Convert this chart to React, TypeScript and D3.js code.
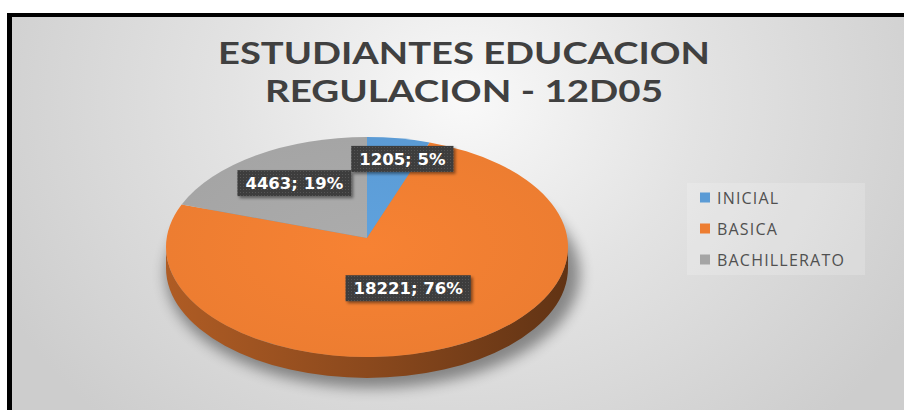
import React, { useMemo } from "react";
import * as d3 from "d3";

const categories = ["INICIAL", "BASICA", "BACHILLERATO"];
const values = [1205, 18221, 4463];
const percents = ["5%", "76%", "19%"];
const colors = ["#5B9BD5", "#ED7D31", "#A5A5A5"];
const titleLines = ["ESTUDIANTES EDUCACION", "REGULACION - 12D05"];

// layout config (not data)
const W = 904, H = 410;
const cx = 367, cy = 247, rx = 201, ry = 110, depth = 21, vOff = -9;
const labelAdjust = [
  { dAng: 3.3, k: 0.82 },
  { dAng: -4.1, k: 0.427 },
  { dAng: 1.7, k: 0.684 },
];

function measure(text: string, font: string) {
  const c = document.createElement("canvas").getContext("2d")!;
  c.font = font;
  return c.measureText(text).width;
}

export default function App() {
  const arcs = useMemo(() => d3.pie<number>().sort(null).startAngle(0).endAngle(2 * Math.PI)(values), []);
  const pt = (a: number, k = 1, dy = 0): [number, number] => [cx + rx * k * Math.sin(a), cy - ry * k * Math.cos(a) + dy];
  const vx = cx, vy = cy + vOff;

  const slicePath = (a0: number, a1: number) => {
    const p0 = pt(a0), p1 = pt(a1);
    const large = a1 - a0 > Math.PI ? 1 : 0;
    return `M${vx},${vy} L${p0[0]},${p0[1]} A${rx},${ry} 0 ${large} 1 ${p1[0]},${p1[1]} Z`;
  };
  const sidePath = (a0: number, a1: number) => {
    const s = Math.max(a0, Math.PI / 2), e = Math.min(a1, 1.5 * Math.PI);
    if (e <= s) return null;
    const p0 = pt(s), p1 = pt(e), q1 = pt(e, 1, depth), q0 = pt(s, 1, depth);
    return `M${p0[0]},${p0[1]} A${rx},${ry} 0 0 1 ${p1[0]},${p1[1]} L${q1[0]},${q1[1]} A${rx},${ry} 0 0 0 ${q0[0]},${q0[1]} Z`;
  };

  const labelFont = "bold 16.5px 'DejaVu Sans'";
  const legendY = d3.scaleBand<string>().domain(categories).range([183, 276]);

  return (
    <div style={{ position: "fixed", left: 0, top: 0 }}>
      <svg width={W} height={H} style={{ display: "block" }}>
        <defs>
          <radialGradient id="bg" gradientUnits="userSpaceOnUse" cx={464} cy={100} r={520}
            gradientTransform="translate(464,100) scale(1,0.85) translate(-464,-100)">
            <stop offset="0" stopColor="#f9f9f9" />
            <stop offset="0.45" stopColor="#e3e3e3" />
            <stop offset="1" stopColor="#cdcdcd" />
          </radialGradient>
          {arcs.map((a, i) => {
            const c = d3.rgb(colors[i]);
            return (
              <linearGradient key={i} id={`side${i}`} gradientUnits="userSpaceOnUse" x1={cx - rx} x2={cx + rx} y1={0} y2={0}>
                <stop offset="0" stopColor={c.darker(0.85).formatHex()} />
                <stop offset="0.5" stopColor={c.darker(1.5).formatHex()} />
                <stop offset="1" stopColor={c.darker(2.5).formatHex()} />
              </linearGradient>
            );
          })}
          {arcs.map((a, i) => {
            const c = d3.rgb(colors[i]);
            return (
              <radialGradient key={i} id={`top${i}`} gradientUnits="userSpaceOnUse" cx={cx} cy={cy} r={rx}
                gradientTransform={`translate(${cx},${cy}) scale(1,${ry / rx}) translate(${-cx},${-cy})`}>
                <stop offset="0" stopColor={c.brighter(0.12).formatHex()} />
                <stop offset="1" stopColor={c.formatHex()} />
              </radialGradient>
            );
          })}
          <filter id="blur" x="-30%" y="-30%" width="160%" height="160%">
            <feGaussianBlur stdDeviation="7" />
          </filter>
          <filter id="boxShadow" x="-20%" y="-30%" width="150%" height="180%">
            <feDropShadow dx="2" dy="2" stdDeviation="1.5" floodColor="#000" floodOpacity="0.45" />
          </filter>
          <pattern id="dots" width="3" height="3" patternUnits="userSpaceOnUse">
            <rect width="3" height="3" fill="#3d3d3d" />
            <rect width="1" height="1" fill="#555" />
          </pattern>
        </defs>

        <rect x={0} y={0} width={W} height={H} fill="#ffffff" />
        <rect x={7} y={13} width={W + 20} height={H + 20} fill="#000" />
        <rect x={12} y={17} width={W + 20} height={H + 20} fill="url(#bg)" />

        {titleLines.map((t, i) => (
          <text key={i} x={464} y={63.5 + i * 38.5} textAnchor="middle" fontFamily="Lato" fontWeight={700}
            fontSize={30.5} fill="#404040" textLength={i === 0 ? 492 : 398} lengthAdjust="spacingAndGlyphs">
            {t}
          </text>
        ))}

        {/* shadow */}
        <ellipse cx={cx + 6} cy={cy + depth + 6} rx={rx + 6} ry={ry + 4} fill="#000" opacity={0.4} filter="url(#blur)" />

        {/* sides */}
        {arcs.map((a, i) => {
          const d = sidePath(a.startAngle, a.endAngle);
          return d ? <path key={i} d={d} fill={`url(#side${i})`} /> : null;
        })}
        {/* tops */}
        {arcs.map((a, i) => (
          <path key={i} d={slicePath(a.startAngle, a.endAngle)} fill={`url(#top${i})`} />
        ))}

        {/* labels */}
        {arcs.map((a, i) => {
          const mid = (a.startAngle + a.endAngle) / 2 + (labelAdjust[i].dAng * Math.PI) / 180;
          const [lx, ly] = pt(mid, labelAdjust[i].k);
          const txt = `${values[i]}; ${percents[i]}`;
          const w = measure(txt, labelFont) + 16;
          const h = 26;
          return (
            <g key={i}>
              <rect x={lx - w / 2} y={ly - h / 2} width={w} height={h} fill="url(#dots)" filter="url(#boxShadow)" />
              <text x={lx} y={ly + 6} textAnchor="middle" fontFamily="'DejaVu Sans'" fontWeight={700} fontSize={16.5} fill="#fff">
                {txt}
              </text>
            </g>
          );
        })}

        {/* legend */}
        <rect x={687} y={183} width={178} height={92} fill="#ffffff" opacity={0.18} />
        {categories.map((c, i) => {
          const y = (legendY(c) ?? 0) + legendY.bandwidth() / 2;
          return (
            <g key={c}>
              <rect x={700} y={y - 6} width={10} height={10} fill={colors[i]} />
              <text x={717} y={y + 5.5} fontFamily="'Open Sans'" fontSize={16} letterSpacing={1.2} fill="#505050">
                {c}
              </text>
            </g>
          );
        })}
      </svg>
    </div>
  );
}
